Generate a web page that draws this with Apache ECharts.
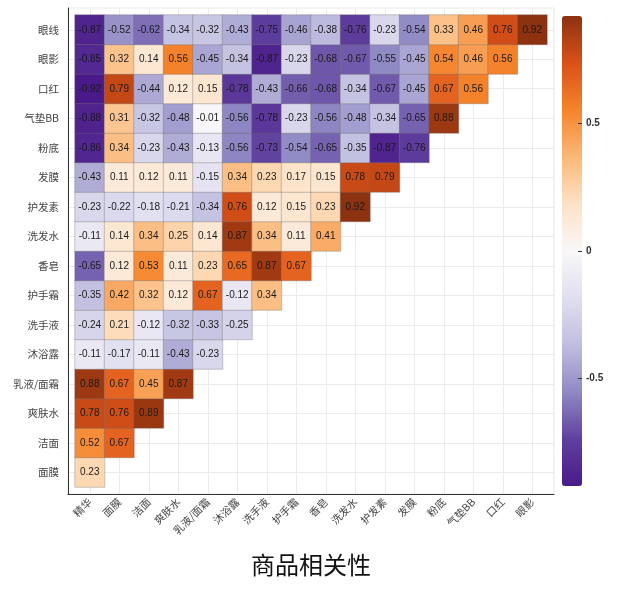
<!DOCTYPE html>
<html>
<head>
<meta charset="utf-8">
<script src="https://cdn.jsdelivr.net/npm/echarts@6/dist/echarts.min.js"></script>
<style>
  html, body { margin: 0; padding: 0; background: #fff; }
  #main { width: 622px; height: 590px; }
</style>
</head>
<body>
<div id="main"></div>
<script>
// 横轴商品
var xCats = ['精华', '面膜', '洁面', '爽肤水', '乳液/面霜', '沐浴露', '洗手液', '护手霜',
             '香皂', '洗发水', '护发素', '发膜', '粉底', '气垫BB', '口红', '眼影'];
// 纵轴商品（从下到上）
var yCats = ['面膜', '洁面', '爽肤水', '乳液/面霜', '沐浴露', '洗手液', '护手霜', '香皂',
             '洗发水', '护发素', '发膜', '粉底', '气垫BB', '口红', '眼影', '眼线'];
// 相关系数，每行对应 yCats 里同序号的商品（从下到上）
var corrRows = [
    [0.23],
    [0.52, 0.67],
    [0.78, 0.76, 0.89],
    [0.88, 0.67, 0.45, 0.87],
    [-0.11, -0.17, -0.11, -0.43, -0.23],
    [-0.24, 0.21, -0.12, -0.32, -0.33, -0.25],
    [-0.35, 0.42, 0.32, 0.12, 0.67, -0.12, 0.34],
    [-0.65, 0.12, 0.53, 0.11, 0.23, 0.65, 0.87, 0.67],
    [-0.11, 0.14, 0.34, 0.25, 0.14, 0.87, 0.34, 0.11, 0.41],
    [-0.23, -0.22, -0.18, -0.21, -0.34, 0.76, 0.12, 0.15, 0.23, 0.92],
    [-0.43, 0.11, 0.12, 0.11, -0.15, 0.34, 0.23, 0.17, 0.15, 0.78, 0.79],
    [-0.86, 0.34, -0.23, -0.43, -0.13, -0.56, -0.73, -0.54, -0.65, -0.35, -0.87, -0.76],
    [-0.88, 0.31, -0.32, -0.48, -0.01, -0.56, -0.78, -0.23, -0.56, -0.48, -0.34, -0.65, 0.88],
    [-0.92, 0.79, -0.44, 0.12, 0.15, -0.78, -0.43, -0.66, -0.68, -0.34, -0.67, -0.45, 0.67, 0.56],
    [-0.85, 0.32, 0.14, 0.56, -0.45, -0.34, -0.87, -0.23, -0.68, -0.67, -0.55, -0.45, 0.54, 0.46, 0.56],
    [-0.87, -0.52, -0.62, -0.34, -0.32, -0.43, -0.75, -0.46, -0.38, -0.76, -0.23, -0.54, 0.33, 0.46, 0.76, 0.92]
];
// 色条刻度
var barTicks = [-0.5, 0, 0.5];
var colorMin = -0.92, colorMax = 0.92;
var palette = ['#4a1a8a', '#5f409e', '#8f89c4', '#c0bedf', '#e0dff0', '#f9f7f8',
               '#fde2c6', '#fbb878', '#f5842c', '#da5119', '#8c3210'];

var heatData = [];
for (var r = 0; r < corrRows.length; r++) {
    for (var c = 0; c < corrRows[r].length; c++) {
        heatData.push([c, r, corrRows[r][c]]);
    }
}
var centers = xCats.map(function (d, i) { return i; });
var pad = 7 / 29.5;

var chart = echarts.init(document.getElementById('main'));
var option = {
    animation: false,
    title: {
        text: '商品相关性',
        left: 'center',
        top: 548,
        textStyle: {
            fontFamily: 'Noto Sans CJK SC',
            fontSize: 24,
            fontWeight: 'normal',
            color: '#111'
        }
    },
    grid: [
        { left: 75, top: 15, width: 472, height: 472 },  // 热力图
        { left: 68, top: 8, width: 486, height: 486, show: true,
          borderColor: '#e8e8e8', borderWidth: 1, backgroundColor: 'transparent' },  // 外框和网格线
        { left: 562, top: 16, width: 20, height: 470 }   // 色条刻度
    ],
    xAxis: [
        {
            type: 'category', gridIndex: 0, data: xCats, offset: 7,
            axisLine: { show: false },
            axisTick: { alignWithLabel: true, length: 5, lineStyle: { color: '#333' } },
            axisLabel: { rotate: 45, fontSize: 10.5, color: '#444', margin: 6,
                         fontFamily: 'Noto Sans CJK SC' },
            splitLine: { show: false }
        },
        {
            type: 'value', gridIndex: 1, min: -0.5 - pad, max: 15.5 + pad,
            axisLine: { show: true, onZero: false, lineStyle: { color: '#333' } },
            axisTick: { show: false, customValues: centers },
            axisLabel: { show: false },
            splitLine: { show: true, lineStyle: { color: '#ebebeb', width: 1 } }
        },
        { type: 'value', gridIndex: 2, show: false, min: 0, max: 1 }
    ],
    yAxis: [
        {
            type: 'category', gridIndex: 0, data: yCats, offset: 7,
            axisLine: { show: false },
            axisTick: { alignWithLabel: true, length: 5, lineStyle: { color: '#333' } },
            axisLabel: { fontSize: 10.5, color: '#444', margin: 9, fontFamily: 'Noto Sans CJK SC' },
            splitLine: { show: false }
        },
        {
            type: 'value', gridIndex: 1, min: -0.5 - pad, max: 15.5 + pad,
            axisLine: { show: true, onZero: false, lineStyle: { color: '#333' } },
            axisTick: { show: false, customValues: centers },
            axisLabel: { show: false },
            splitLine: { show: true, lineStyle: { color: '#ebebeb', width: 1 } }
        },
        {
            type: 'value', gridIndex: 2, position: 'right', min: colorMin, max: colorMax, z: 10,
            axisLine: { show: false, onZero: false },
            axisTick: { show: true, inside: true, length: 4, customValues: barTicks,
                        lineStyle: { color: '#333' } },
            axisLabel: { show: true, customValues: barTicks, margin: 4, fontSize: 10,
                         fontWeight: 'bold', color: '#333', fontFamily: 'Liberation Sans' },
            splitLine: { show: false }
        }
    ],
    visualMap: {
        type: 'continuous',
        min: colorMin,
        max: colorMax,
        seriesIndex: 0,
        orient: 'vertical',
        left: 547,
        top: 1,
        itemWidth: 20,
        itemHeight: 470,
        calculable: false,
        hoverLink: false,
        inRange: { color: palette }
    },
    series: [{
        type: 'heatmap',
        xAxisIndex: 0,
        yAxisIndex: 0,
        data: heatData,
        label: {
            show: true,
            fontSize: 10,
            color: '#1a1a1a',
            fontFamily: 'Liberation Sans'
        },
        itemStyle: {
            borderColor: 'rgba(110,110,110,0.35)',
            borderWidth: 1
        }
    }]
};
chart.setOption(option);
</script>
</body>
</html>
